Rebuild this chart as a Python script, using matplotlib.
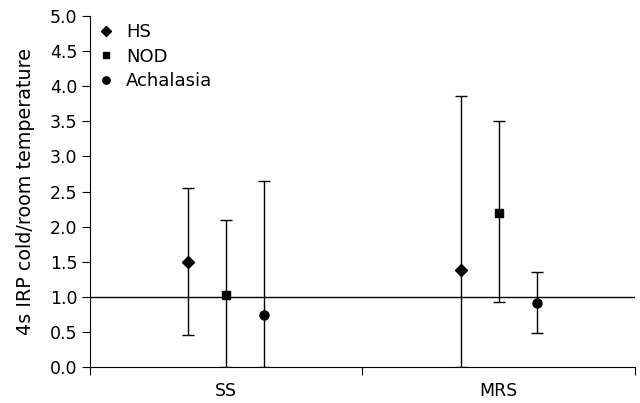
import numpy as np
import matplotlib
matplotlib.use("Agg")
from matplotlib import pyplot as plt
from matplotlib.lines import Line2D

plt.rcParams['font.family'] = ['DejaVu Sans']

categories = ["SS", "MRS"]
groups = ["HS", "NOD", "Achalasia"]
markers = ["D", "s", "o"]
marker_sizes = [6, 6, 6.5]

# mean, lower and upper bound per group, in category order
means = {"HS": [1.50, 1.38], "NOD": [1.02, 2.20], "Achalasia": [0.74, 0.91]}
lows = {"HS": [0.45, 0.00], "NOD": [0.00, 0.93], "Achalasia": [0.00, 0.48]}
highs = {"HS": [2.55, 3.86], "NOD": [2.10, 3.50], "Achalasia": [2.65, 1.36]}

offsets = [-0.14, 0.0, 0.14]


def main():
	fig = plt.figure(figsize=(6.4, 4.03), dpi=100)
	ax = fig.add_axes([0.1406, 0.0893, 0.8514, 0.8707])

	centers = np.arange(len(categories)) + 0.5

	ax.axhline(1.0, color="black", lw=1.0, zorder=1)

	handles = []
	for i, g in enumerate(groups):
		x = centers + offsets[i]
		m = np.array(means[g])
		yerr = [m - np.array(lows[g]), np.array(highs[g]) - m]
		ax.errorbar(x, m, yerr=yerr, fmt=markers[i], color="black", ms=marker_sizes[i],
					ecolor="black", elinewidth=1.0, capsize=4.5, capthick=1.0, zorder=3)
		handles.append(Line2D([], [], ls="none", marker=markers[i], color="black",
							  ms=marker_sizes[i] - 1.2, label=g))

	ax.set_xlim(0, len(categories))
	ax.set_ylim(0, 5.0)
	yt = np.arange(0, 5.01, 0.5)
	ax.set_yticks(yt)
	ax.set_yticklabels(["{:.1f}".format(v) for v in yt], fontsize=12.5)

	ax.set_xticks(np.arange(len(categories) + 1))
	ax.set_xticklabels([])
	ax.set_xticks(centers, minor=True)
	ax.set_xticklabels(categories, minor=True, fontsize=12.5)
	ax.tick_params(axis="x", which="minor", length=0, pad=11)
	ax.tick_params(axis="x", which="major", length=6, direction="out")
	ax.tick_params(axis="y", length=6, direction="out", pad=3)

	for s in ["top", "right"]:
		ax.spines[s].set_visible(False)

	ax.set_ylabel("4s IRP cold/room temperature", fontsize=13.8, labelpad=11)

	ax.legend(handles=handles, loc="upper left", frameon=False, fontsize=13, handletextpad=0.6,
			  handlelength=1.0, borderaxespad=0.1, borderpad=0.3, labelspacing=0.35)

	fig.savefig("out.png", dpi=100)


if __name__ == "__main__":
	main()
